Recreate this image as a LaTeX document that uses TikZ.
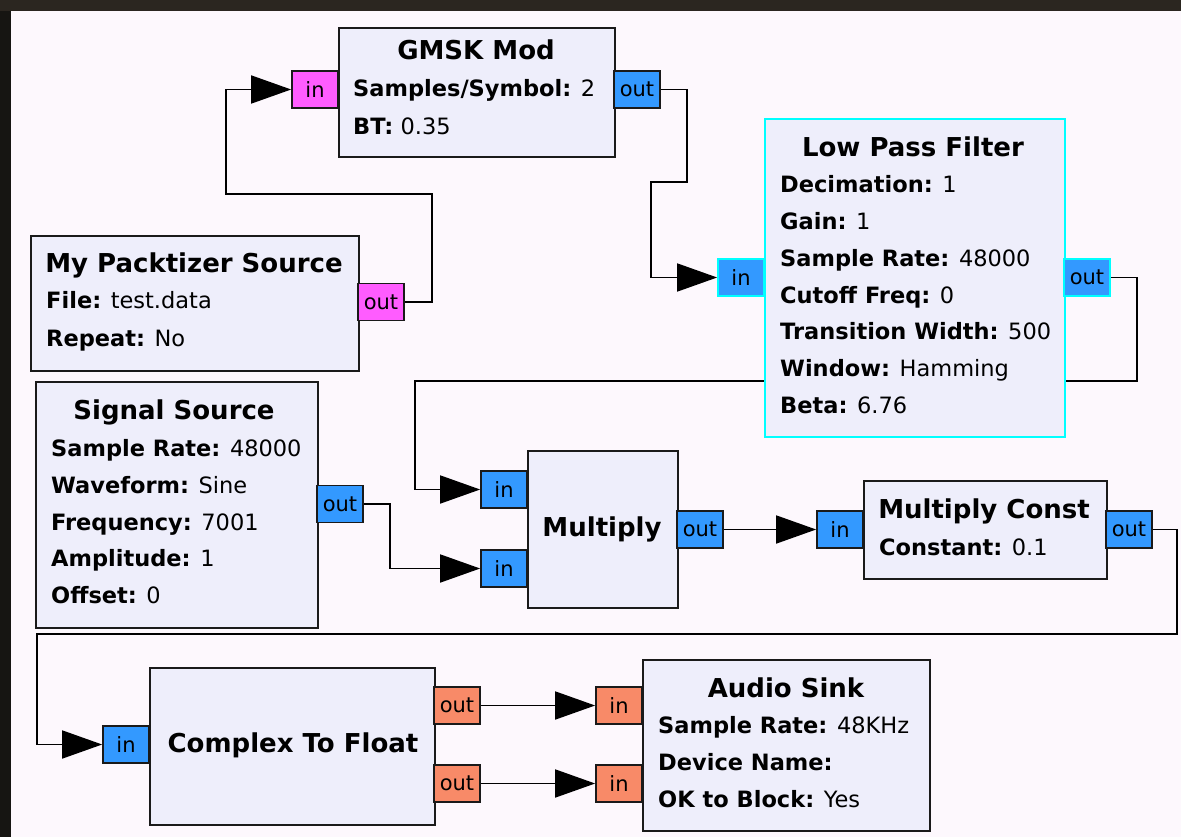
\documentclass[tikz,border=0pt]{standalone}
\usepackage{fontspec}
\setmainfont{DejaVu Sans}
\usetikzlibrary{arrows.meta}
\definecolor{frame}{HTML}{2B2620}
\definecolor{frameleft}{HTML}{161512}
\definecolor{canvas}{HTML}{FDF8FD}
\definecolor{blockfill}{HTML}{EEEEFB}
\definecolor{pblue}{HTML}{3399FF}
\definecolor{pmag}{HTML}{FF5CFF}
\definecolor{porange}{HTML}{F88A68}
\definecolor{pcyan}{HTML}{00FFFF}
\definecolor{edge}{HTML}{1A1A1A}
\pgfdeclarelayer{canvaslayer}
\pgfdeclarelayer{wires}
\pgfsetlayers{canvaslayer,wires,main}
\tikzset{
  block/.style={draw=edge, line width=1.7pt, fill=blockfill, inner sep=0pt, anchor=north west},
  port/.style={draw=edge, line width=1.7pt, inner sep=0pt, minimum width=46pt, minimum height=37pt, font=\fontsize{21}{21}\selectfont},
  blueport/.style={port, fill=pblue},
  magport/.style={port, fill=pmag},
  orport/.style={port, fill=porange},
  cyport/.style={port, fill=pblue, draw=pcyan},
  btitle/.style={font=\bfseries\fontsize{26}{26}\selectfont, anchor=base, inner sep=0pt},
  bparam/.style={font=\fontsize{22.5}{22.5}\selectfont, anchor=base west, inner sep=0pt},
  conn/.style={draw=black, line width=1.7pt, -{Triangle[length=40pt,width=28pt]}}
}
\begin{document}
\begin{tikzpicture}[x=1pt,y=-1pt]
\useasboundingbox (0,0) rectangle (1181,837);
\begin{pgfonlayer}{canvaslayer}
\fill[frame] (0,0) rectangle (1181,837);
\fill[frameleft] (0,11) rectangle (11,837);
\fill[canvas] (11,11) rectangle (1181,837);
\end{pgfonlayer}

% GMSK Mod
\node[block, minimum width=276pt, minimum height=129pt] (gmsk) at (338,27) {};
\node[btitle] (gmsk-t) at (476,59.5) {GMSK Mod};
\node[bparam] (gmsk-p1) at (353,96.5) {\textbf{Samples/Symbol:} 2};
\node[bparam] (gmsk-p2) at (353,134.5) {\textbf{BT:} 0.35};
\node[magport] (gmsk-in) at (315,89.5) {in};
\node[blueport] (gmsk-out) at (637,89.5) {out};

% My Packtizer Source
\node[block, minimum width=328pt, minimum height=135pt] (pack) at (30,235) {};
\node[btitle] (pack-t) at (194,272.5) {My Packtizer Source};
\node[bparam] (pack-p1) at (46,308.5) {\textbf{File:} test.data};
\node[bparam] (pack-p2) at (46,346.5) {\textbf{Repeat:} No};
\node[magport] (pack-out) at (381,302) {out};

% Low Pass Filter
\node[block, draw=pcyan, minimum width=300pt, minimum height=318pt] (lpf) at (764,118) {};
\node[btitle] (lpf-t) at (913,156.5) {Low Pass Filter};
\node[bparam] (lpf-p1) at (780,192.5) {\textbf{Decimation:} 1};
\node[bparam] (lpf-p2) at (780,229.5) {\textbf{Gain:} 1};
\node[bparam] (lpf-p3) at (780,266.5) {\textbf{Sample Rate:} 48000};
\node[bparam] (lpf-p4) at (780,303.5) {\textbf{Cutoff Freq:} 0};
\node[bparam] (lpf-p5) at (780,339.5) {\textbf{Transition Width:} 500};
\node[bparam] (lpf-p6) at (780,376.5) {\textbf{Window:} Hamming};
\node[bparam] (lpf-p7) at (780,413.5) {\textbf{Beta:} 6.76};
\node[cyport] (lpf-in) at (741,277.5) {in};
\node[cyport] (lpf-out) at (1087,277.5) {out};

% Signal Source
\node[block, minimum width=282pt, minimum height=246pt] (sig) at (35,381) {};
\node[btitle] (sig-t) at (174,419.5) {Signal Source};
\node[bparam] (sig-p1) at (51,456.5) {\textbf{Sample Rate:} 48000};
\node[bparam] (sig-p2) at (51,493.5) {\textbf{Waveform:} Sine};
\node[bparam] (sig-p3) at (51,530.5) {\textbf{Frequency:} 7001};
\node[bparam] (sig-p4) at (51,566.5) {\textbf{Amplitude:} 1};
\node[bparam] (sig-p5) at (51,603.5) {\textbf{Offset:} 0};
\node[blueport] (sig-out) at (340,504) {out};

% Multiply
\node[block, minimum width=150pt, minimum height=157pt] (mul) at (527,450) {};
\node[btitle] (mul-t) at (602,536.5) {Multiply};
\node[blueport] (mul-in1) at (504,489.5) {in};
\node[blueport] (mul-in2) at (504,568.5) {in};
\node[blueport] (mul-out) at (700,529.5) {out};

% Multiply Const
\node[block, minimum width=243pt, minimum height=98pt] (mc) at (863,480) {};
\node[btitle] (mc-t) at (984,518.5) {Multiply Const};
\node[bparam] (mc-p1) at (879,555.5) {\textbf{Constant:} 0.1};
\node[blueport] (mc-in) at (840,529.5) {in};
\node[blueport] (mc-out) at (1129,529.5) {out};

% Complex To Float
\node[block, minimum width=285pt, minimum height=157pt] (ctf) at (149,667) {};
\node[btitle] (ctf-t) at (293,752.5) {Complex To Float};
\node[blueport] (ctf-in) at (126,744.5) {in};
\node[orport] (ctf-out1) at (457,705.5) {out};
\node[orport] (ctf-out2) at (457,783.5) {out};

% Audio Sink
\node[block, minimum width=287pt, minimum height=171pt] (as) at (642,659) {};
\node[btitle] (as-t) at (786,697.5) {Audio Sink};
\node[bparam] (as-p1) at (658,733.5) {\textbf{Sample Rate:} 48KHz};
\node[bparam] (as-p2) at (658,770.5) {\textbf{Device Name:}};
\node[bparam] (as-p3) at (658,807.5) {\textbf{OK to Block:} Yes};
\node[orport] (as-in1) at (619,705.5) {in};
\node[orport] (as-in2) at (619,783.5) {in};

\begin{pgfonlayer}{wires}
\draw[conn] (pack-out.east) -- (432,302) -- (432,194) -- (226,194) |- (gmsk-in.west);
\draw[conn] (gmsk-out.east) -- (687,89.5) -- (687,182) -- (651,182) |- (lpf-in.west);
\draw[conn] (lpf-out.east) -- (1137,277.5) -- (1137,381) -- (415,381) |- (mul-in1.west);
\draw[conn] (sig-out.east) -- (390,504) |- (mul-in2.west);
\draw[conn] (mul-out.east) -- (mc-in.west);
\draw[conn] (mc-out.east) -- (1177,529.5) -- (1177,634) -- (37,634) |- (ctf-in.west);
\draw[conn] (ctf-out1.east) -- (as-in1.west);
\draw[conn] (ctf-out2.east) -- (as-in2.west);
\end{pgfonlayer}
\end{tikzpicture}
\end{document}
